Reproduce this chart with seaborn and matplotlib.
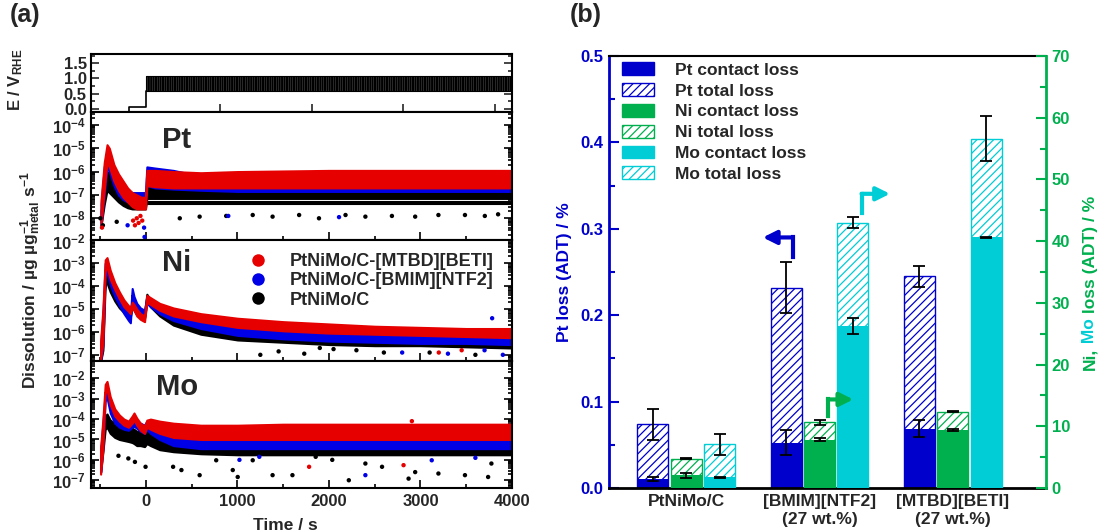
import numpy as np
import pandas as pd
import matplotlib
matplotlib.use('Agg')
import matplotlib.pyplot as plt
import matplotlib.ticker as mticker
from matplotlib.patches import Patch
from matplotlib.lines import Line2D
import seaborn as sns

# ---------------- DATA : panel (a) ----------------
# potential program
e_step_t = [-186, -186, 0, 0]
e_step_v = [-0.1, 0.05, 0.05, 0.6]
e_cycle_t = [0, 3980]
e_cycle_lo = 0.6
e_cycle_hi = 1.08

# Pt dissolution (log10 band limits)
pt_t = [-490, -455, -425, -400, -350, -300, -250, -200, -150, -100, -50, -5,
        10, 100, 300, 600, 1000, 2000, 3000, 3980]
pt_red_hi = [-7.2, -5.6, -4.85, -5.0, -5.7, -6.1, -6.4, -6.7, -6.9, -7.0, -7.1, -7.1,
             -5.95, -5.95, -6.0, -6.05, -6.0, -5.95, -5.95, -5.95]
pt_red_lo = [-8.3, -6.8, -5.6, -5.8, -6.4, -6.8, -7.1, -7.3, -7.5, -7.6, -7.6, -7.6,
             -6.6, -6.65, -6.7, -6.7, -6.7, -6.7, -6.7, -6.7]
pt_blue_hi = [-7.4, -5.8, -5.1, -5.2, -5.9, -6.3, -6.6, -6.8, -6.9, -6.9, -6.9, -6.9,
              -5.8, -5.85, -5.95, -6.2, -6.3, -6.35, -6.35, -6.35]
pt_blue_lo = [-8.3, -7.0, -5.8, -6.0, -6.6, -7.0, -7.2, -7.3, -7.3, -7.3, -7.3, -7.3,
              -6.6, -6.7, -6.75, -6.8, -6.85, -6.85, -6.85, -6.85]
pt_black_hi = [-7.7, -6.6, -6.0, -6.1, -6.5, -6.8, -7.0, -7.2, -7.4, -7.45, -7.45, -7.45,
               -6.5, -6.55, -6.6, -6.6, -6.6, -6.6, -6.6, -6.6]
pt_black_lo = [-8.3, -7.4, -6.8, -6.9, -7.1, -7.3, -7.45, -7.55, -7.6, -7.6, -7.6, -7.6,
               -7.15, -7.15, -7.15, -7.15, -7.15, -7.15, -7.15, -7.15]
pt_black2_t = [20, 3980]
pt_black2_lo = [-7.41, -7.41]
pt_black2_hi = [-7.32, -7.32]
pt_black_pts_t = [-498, -470, -319, 370, 587, 877, 1167, 1384, 1674, 1891, 2181, 2398,
                  2688, 2942, 3196, 3486, 3703, 3848]
pt_black_pts_v = [-8.0, -8.3, -8.15, -8.0, -7.93, -7.9, -7.86, -7.93, -7.86, -8.0, -7.86,
                  -7.93, -7.9, -7.93, -7.86, -7.86, -7.9, -7.83]
pt_red_pts_t = [-140, -120, -100, -80, -60, -40, -480]
pt_red_pts_v = [-8.1, -8.3, -8.0, -8.2, -7.9, -8.1, -8.4]
pt_blue_pts_t = [-200, -20, -15, 2110, 900]
pt_blue_pts_v = [-8.3, -8.4, -8.8, -7.95, -7.9]

# Ni dissolution
ni_t = [-495, -470, -445, -425, -390, -340, -290, -240, -190, -170, -150, -130, -100,
        -60, -15, 10, 50, 150, 300, 600, 1000, 1500, 2000, 2500, 3000, 3500, 3980]
ni_red_hi = [-6.4, -5.0, -2.85, -2.75, -3.3, -3.85, -4.25, -4.6, -4.85, -4.95, -4.7, -4.8, -5.0,
             -5.2, -5.3, -4.4, -4.5, -4.75, -4.95, -5.2, -5.4, -5.55, -5.65, -5.75, -5.8, -5.85, -5.85]
ni_red_lo = [-7.2, -6.5, -3.3, -3.15, -3.7, -4.15, -4.55, -4.9, -5.1, -5.2, -4.95, -5.05, -5.3,
             -5.45, -5.55, -4.7, -4.8, -5.05, -5.3, -5.55, -5.8, -5.95, -6.05, -6.1, -6.15, -6.2, -6.25]
ni_blue_hi = [-6.6, -5.2, -3.0, -2.95, -3.55, -4.1, -4.5, -4.85, -5.15, -5.3, -4.1, -4.45, -4.75,
              -4.95, -5.05, -4.45, -4.55, -4.85, -5.15, -5.45, -5.7, -5.85, -5.95, -6.0, -6.05, -6.1, -6.1]
ni_blue_lo = [-7.3, -6.6, -3.5, -3.4, -3.95, -4.45, -4.85, -5.2, -5.5, -5.6, -4.4, -4.75, -5.05,
              -5.25, -5.35, -4.75, -4.9, -5.2, -5.5, -5.85, -6.15, -6.3, -6.4, -6.45, -6.5, -6.5, -6.55]
ni_black_hi = [-6.8, -5.5, -3.6, -3.55, -4.0, -4.4, -4.7, -4.9, -5.05, -5.1, -4.6, -4.8, -5.0,
               -5.1, -5.15, -4.35, -4.6, -5.0, -5.4, -5.8, -6.0, -6.1, -6.15, -6.2, -6.2, -6.25, -6.25]
ni_black_lo = [-7.3, -6.8, -3.9, -3.85, -4.25, -4.65, -4.95, -5.15, -5.3, -5.35, -4.85, -5.05, -5.25,
               -5.35, -5.4, -4.6, -4.9, -5.3, -5.7, -6.1, -6.35, -6.45, -6.55, -6.6, -6.6, -6.65, -6.7]
ni_black_pts_t = [1250, 1730, 1900, 2300, 2600, 3100, 3600, 1450, 2050]
ni_black_pts_v = [-7.0, -6.95, -6.7, -6.8, -6.9, -6.9, -7.0, -6.85, -6.75]
ni_blue_pts_t = [2800, 3700, 3900, 3783, 3300]
ni_blue_pts_v = [-6.9, -6.8, -7.0, -5.4, -6.95]
ni_red_pts_t = [3200, 3450]
ni_red_pts_v = [-6.9, -6.8]

# Mo dissolution
mo_t = [-495, -470, -445, -425, -390, -340, -290, -240, -190, -150, -130, -100, -60, -15,
        10, 50, 150, 300, 600, 1000, 1500, 2000, 2500, 3000, 3500, 3980]
mo_red_hi = [-5.4, -4.0, -2.3, -2.15, -2.9, -3.5, -3.8, -4.0, -4.1, -3.85, -3.7, -3.95, -4.2, -4.35,
             -4.05, -4.0, -4.1, -4.2, -4.3, -4.3, -4.25, -4.25, -4.25, -4.25, -4.25, -4.25]
mo_red_lo = [-6.7, -5.5, -2.7, -2.55, -3.3, -3.85, -4.1, -4.3, -4.4, -4.2, -4.05, -4.3, -4.55, -4.7,
             -4.4, -4.5, -4.7, -4.9, -5.0, -5.0, -5.0, -5.0, -5.0, -5.0, -5.0, -5.0]
mo_blue_hi = [-5.6, -4.2, -2.7, -2.55, -3.3, -3.85, -4.05, -4.15, -4.2, -4.0, -3.95, -4.1, -4.2, -4.3,
              -4.1, -4.1, -4.2, -4.3, -4.35, -4.35, -4.3, -4.3, -4.3, -4.3, -4.3, -4.3]
mo_blue_lo = [-6.6, -5.4, -3.1, -2.95, -3.7, -4.2, -4.4, -4.5, -4.55, -4.4, -4.35, -4.45, -4.6, -4.7,
              -4.5, -4.7, -5.0, -5.3, -5.45, -5.45, -5.45, -5.45, -5.45, -5.45, -5.45, -5.45]
mo_black_hi = [-5.6, -4.6, -3.85, -3.75, -4.05, -4.2, -4.3, -4.35, -4.4, -4.45, -4.5, -4.6, -4.6, -4.7,
               -4.4, -4.5, -4.7, -4.85, -4.9, -4.9, -4.9, -4.9, -4.9, -4.9, -4.9, -4.9]
mo_black_lo = [-6.6, -5.6, -4.5, -4.4, -4.7, -4.9, -5.0, -5.05, -5.1, -5.15, -5.2, -5.3, -5.3, -5.35,
               -5.2, -5.3, -5.5, -5.6, -5.7, -5.75, -5.75, -5.75, -5.75, -5.75, -5.75, -5.75]
mo_black_pts_t = [-192, -4, 297, 388, 587, 949, 1003, 1384, 1601, 2036, 2217, 2398, 2580,
                  2870, 2942, 3196, 3486, 3739, 3775, 768, 1167, 1855, -300, -120]
mo_black_pts_v = [-5.93, -6.34, -6.34, -6.5, -6.75, -6.5, -6.84, -6.75, -6.75, -6.0, -7.0, -6.18,
                  -6.34, -6.92, -6.6, -6.67, -6.75, -6.84, -6.18, -6.02, -6.02, -5.85, -5.8, -6.1]
mo_blue_pts_t = [1022, 2398, 1239, 3123, 3600]
mo_blue_pts_v = [-6.0, -6.75, -5.85, -6.02, -5.9]
mo_red_pts_t = [2906, 2815, 1783]
mo_red_pts_v = [-4.1, -6.26, -6.34]

legend_a_labels = ['PtNiMo/C-[MTBD][BETI]', 'PtNiMo/C-[BMIM][NTF2]', 'PtNiMo/C']

# ---------------- DATA : panel (b) ----------------
groups = ['PtNiMo/C', '[BMIM][NTF2]\n(27 wt.%)', '[MTBD][BETI]\n(27 wt.%)']
metals = ['Pt', 'Ni', 'Mo']
pt_total = [0.074, 0.232, 0.245]
pt_total_err = [0.018, 0.029, 0.012]
pt_contact = [0.0104, 0.0525, 0.0687]
pt_contact_err = [0.0022, 0.0145, 0.010]
ni_total = [4.75, 10.64, 12.37]
ni_total_err = [0.1, 0.38, 0.1]
ni_contact = [2.05, 7.83, 9.4]
ni_contact_err = [0.45, 0.22, 0.2]
mo_total = [7.07, 42.95, 56.6]
mo_total_err = [1.7, 0.9, 3.6]
mo_contact = [1.72, 26.3, 40.6]
mo_contact_err = [0.05, 1.3, 0.1]
legend_b_labels = ['Pt contact loss', 'Pt total loss', 'Ni contact loss',
                   'Ni total loss', 'Mo contact loss', 'Mo total loss']

# ---------------- STYLE ----------------
sns.set_theme(style='ticks')
plt.rcParams['font.family'] = ['Liberation Sans', 'DejaVu Sans']
plt.rcParams['font.weight'] = 'bold'
plt.rcParams['axes.labelweight'] = 'bold'
plt.rcParams['mathtext.fontset'] = 'custom'
plt.rcParams['mathtext.rm'] = 'Liberation Sans:bold'
plt.rcParams['mathtext.bf'] = 'Liberation Sans:bold'
plt.rcParams['mathtext.it'] = 'Liberation Sans:bold'
plt.rcParams['mathtext.sf'] = 'Liberation Sans:bold'
plt.rcParams['mathtext.default'] = 'bf'

RED = '#E60000'
BLUE_A = '#0000E6'
BLACK = '#000000'
C_PT = '#0000CC'
C_NI = '#00B04F'
C_MO = '#00CDD5'
metal_colors = {'Pt': C_PT, 'Ni': C_NI, 'Mo': C_MO}

W, H = 1099, 532
fig = plt.figure(figsize=(W / 100, H / 100), dpi=100)


def rect(l, t, r, b):
    return [l / W, 1 - b / H, (r - l) / W, (b - t) / H]


ax_e = fig.add_axes(rect(91, 54, 512, 112))
ax_pt = fig.add_axes(rect(91, 112, 512, 240))
ax_ni = fig.add_axes(rect(91, 240, 512, 361))
ax_mo = fig.add_axes(rect(91, 361, 512, 488))
axb = fig.add_axes(rect(609, 56, 1046, 488))

# ---------------- panel (a) ----------------
ax_e.plot(e_step_t, e_step_v, color='black', lw=1.2)
plt.rcParams['hatch.linewidth'] = 1.6
ax_e.fill_between(e_cycle_t, e_cycle_lo, e_cycle_hi, facecolor='white',
                  edgecolor='black', hatch='|||||||', lw=0.8)
ax_e.set_xlim(-600, 4000)
ax_e.set_ylim(-0.1, 1.8)
ax_e.yaxis.set_major_locator(mticker.FixedLocator([0.0, 0.5, 1.0, 1.5]))
ax_e.yaxis.set_major_formatter(mticker.FormatStrFormatter('%.1f'))
ax_e.yaxis.set_minor_locator(mticker.MultipleLocator(0.25))
ax_e.xaxis.set_major_locator(mticker.FixedLocator([810, 1810, 2810, 3810]))
ax_e.tick_params(which='both', direction='in', left=True, right=True, bottom=True,
                 top=False, labelbottom=False, labelsize=12, width=1.2, pad=3)
ax_e.tick_params(which='major', length=6)
ax_e.tick_params(which='minor', length=3)
for s in ax_e.spines.values():
    s.set_linewidth(1.5)
    s.set_color('black')
ax_e.set_ylabel(r'E / V$_{\mathbf{RHE}}$', fontsize=12, labelpad=8)
ax_e.yaxis.set_label_coords(-0.157, 0.55)


def band(ax, t, lo, hi, color):
    ax.fill_between(t, np.power(10.0, lo), np.power(10.0, hi), facecolor=color,
                    edgecolor=color, lw=1.5, zorder=2)


def pts(ax, t, v, color):
    sns.scatterplot(x=t, y=np.power(10.0, v), ax=ax, color=color, s=10,
                    edgecolor='none', zorder=3, legend=False)


def style_log(ax, ylo, yhi, show_x=False):
    ax.set_yscale('log')
    ax.set_ylim(10 ** ylo, 10 ** yhi)
    ax.set_xlim(-600, 4000)
    ax.yaxis.set_major_locator(mticker.LogLocator(base=10, numticks=20))
    ax.yaxis.set_minor_locator(mticker.LogLocator(base=10, subs=np.arange(2, 10), numticks=20))
    ax.yaxis.set_minor_formatter(mticker.NullFormatter())
    ax.xaxis.set_major_locator(mticker.MultipleLocator(1000))
    ax.xaxis.set_minor_locator(mticker.MultipleLocator(500))
    ax.tick_params(which='both', direction='in', left=True, right=True, top=False,
                   bottom=True, width=1.2, color='black', labelsize=12, pad=4)
    ax.tick_params(which='major', length=6)
    ax.tick_params(which='minor', length=3)
    ax.tick_params(axis='x', which='both', labelbottom=show_x)
    for s in ax.spines.values():
        s.set_linewidth(1.5)
        s.set_color('black')
    ax.set_xlabel('')
    ax.set_ylabel('')


# Pt
band(ax_pt, pt_t, pt_black_lo, pt_black_hi, BLACK)
band(ax_pt, pt_black2_t, pt_black2_lo, pt_black2_hi, BLACK)
pts(ax_pt, pt_black_pts_t, pt_black_pts_v, BLACK)
band(ax_pt, pt_t, pt_blue_lo, pt_blue_hi, BLUE_A)
pts(ax_pt, pt_blue_pts_t, pt_blue_pts_v, BLUE_A)
band(ax_pt, pt_t, pt_red_lo, pt_red_hi, RED)
pts(ax_pt, pt_red_pts_t, pt_red_pts_v, RED)
style_log(ax_pt, -8.93, -3.45)
ax_pt.text(0.204, 0.78, 'Pt', transform=ax_pt.transAxes, fontsize=21,
           fontweight='bold', ha='center', va='center')

# Ni
band(ax_ni, ni_t, ni_black_lo, ni_black_hi, BLACK)
pts(ax_ni, ni_black_pts_t, ni_black_pts_v, BLACK)
band(ax_ni, ni_t, ni_blue_lo, ni_blue_hi, BLUE_A)
pts(ax_ni, ni_blue_pts_t, ni_blue_pts_v, BLUE_A)
band(ax_ni, ni_t, ni_red_lo, ni_red_hi, RED)
pts(ax_ni, ni_red_pts_t, ni_red_pts_v, RED)
style_log(ax_ni, -7.27, -1.98)
ax_ni.text(0.204, 0.81, 'Ni', transform=ax_ni.transAxes, fontsize=21,
           fontweight='bold', ha='center', va='center')
leg_handles = [Line2D([], [], ls='', marker='o', markersize=9, color=c, markeredgewidth=0)
               for c in (RED, BLUE_A, BLACK)]
ax_ni.legend(leg_handles, legend_a_labels, loc='upper left', bbox_to_anchor=(0.376, 0.89),
             frameon=False, fontsize=13, handlelength=0.95, handletextpad=1.3,
             labelspacing=0.12, borderpad=0, borderaxespad=0)

# Mo
band(ax_mo, mo_t, mo_black_lo, mo_black_hi, BLACK)
pts(ax_mo, mo_black_pts_t, mo_black_pts_v, BLACK)
band(ax_mo, mo_t, mo_blue_lo, mo_blue_hi, BLUE_A)
pts(ax_mo, mo_blue_pts_t, mo_blue_pts_v, BLUE_A)
band(ax_mo, mo_t, mo_red_lo, mo_red_hi, RED)
pts(ax_mo, mo_red_pts_t, mo_red_pts_v, RED)
style_log(ax_mo, -7.38, -1.15, show_x=True)
ax_mo.text(0.204, 0.795, 'Mo', transform=ax_mo.transAxes, fontsize=21,
           fontweight='bold', ha='center', va='center')

fig.text(31 / W, 1 - 280 / H, r'Dissolution / µg µg$_{\mathbf{metal}}^{\mathbf{-1}}$ s$^{\mathbf{-1}}$',
         rotation=90, ha='center', va='center', fontsize=12.5, fontweight='bold')
fig.text(285 / W, 1 - 525 / H, 'Time / s', ha='center', va='center', fontsize=12.5,
         fontweight='bold')
fig.text(10 / W, 1 - 15 / H, '(a)', ha='left', va='center', fontsize=18, fontweight='bold')
fig.text(570 / W, 1 - 15 / H, '(b)', ha='left', va='center', fontsize=18, fontweight='bold')

# ---------------- panel (b) ----------------
ax2 = axb.twinx()
plt.rcParams['hatch.linewidth'] = 0.9
HATCH = '////'


def long_df(vals_by_metal):
    rows = []
    for m, vals in vals_by_metal.items():
        for g, v in zip(groups, vals):
            rows.append({'group': g, 'metal': m, 'value': v})
    return pd.DataFrame(rows)


df_pt_tot = long_df({'Pt': pt_total})
df_pt_con = long_df({'Pt': pt_contact})
df_nm_tot = long_df({'Ni': ni_total, 'Mo': mo_total})
df_nm_con = long_df({'Ni': ni_contact, 'Mo': mo_contact})

common = dict(x='group', y='value', hue='metal', hue_order=metals, order=groups,
              palette=metal_colors, width=0.75, gap=0.07, errorbar=None, dodge=True,
              legend=False, saturation=1)


def hatched_bars(ax, df):
    n0 = len(ax.patches)
    sns.barplot(data=df, ax=ax, **common)
    for p in ax.patches[n0:]:
        c = p.get_facecolor()
        p.set_facecolor('white')
        p.set_edgecolor(c)
        p.set_hatch(HATCH)
        p.set_linewidth(1.0)


hatched_bars(axb, df_pt_tot)
sns.barplot(data=df_pt_con, ax=axb, linewidth=0, **common)
hatched_bars(ax2, df_nm_tot)
sns.barplot(data=df_nm_con, ax=ax2, linewidth=0, **common)

slot = 0.25
pos = {m: np.arange(len(groups)) + (i - 1) * slot for i, m in enumerate(metals)}
eb = dict(fmt='none', ecolor='black', elinewidth=1.3, capsize=4.5, capthick=1.3, zorder=5)
axb.errorbar(pos['Pt'], pt_total, yerr=pt_total_err, **eb)
axb.errorbar(pos['Pt'], pt_contact, yerr=pt_contact_err, **eb)
ax2.errorbar(pos['Ni'], ni_total, yerr=ni_total_err, **eb)
ax2.errorbar(pos['Ni'], ni_contact, yerr=ni_contact_err, **eb)
ax2.errorbar(pos['Mo'], mo_total, yerr=mo_total_err, **eb)
ax2.errorbar(pos['Mo'], mo_contact, yerr=mo_contact_err, **eb)

axb.set_xlim(-0.58, 2.70)
axb.set_ylim(0, 0.5)
ax2.set_ylim(0, 70)
axb.yaxis.set_major_locator(mticker.MultipleLocator(0.1))
axb.yaxis.set_minor_locator(mticker.MultipleLocator(0.05))
axb.yaxis.set_major_formatter(mticker.FormatStrFormatter('%.1f'))
ax2.yaxis.set_major_locator(mticker.MultipleLocator(10))
ax2.yaxis.set_minor_locator(mticker.MultipleLocator(5))
axb.tick_params(axis='y', which='both', direction='in', color=C_PT, labelcolor=C_PT,
                labelsize=12, width=1.5, pad=4, right=False)
axb.tick_params(axis='y', which='major', length=7)
axb.tick_params(axis='y', which='minor', length=4)
ax2.tick_params(axis='y', which='both', direction='in', color=C_NI, labelcolor=C_NI,
                labelsize=12, width=1.5, pad=4, left=False)
ax2.tick_params(axis='y', which='major', length=7)
ax2.tick_params(axis='y', which='minor', length=4)
axb.tick_params(axis='x', length=0, labelsize=12.5, pad=4)
for lab in axb.get_xticklabels():
    lab.set_fontweight('bold')
    lab.set_linespacing(1.25)
axb.set_xlabel('')
ax2.set_xlabel('')
axb.set_ylabel('Pt loss (ADT) / %', color=C_PT, fontsize=12.5, fontweight='bold', labelpad=6)
ax2.set_ylabel('')

axb.spines['left'].set_color(C_PT)
axb.spines['left'].set_linewidth(2)
axb.spines['bottom'].set_color('black')
axb.spines['bottom'].set_linewidth(2)
axb.spines['top'].set_color('black')
axb.spines['top'].set_linewidth(1.5)
axb.spines['right'].set_visible(False)
for k in ('left', 'top', 'bottom'):
    ax2.spines[k].set_visible(False)
ax2.spines['right'].set_color(C_NI)
ax2.spines['right'].set_linewidth(2)

leg_b = [Patch(facecolor=C_PT, edgecolor=C_PT, lw=1),
         Patch(facecolor='white', edgecolor=C_PT, hatch=HATCH, lw=1),
         Patch(facecolor=C_NI, edgecolor=C_NI, lw=1),
         Patch(facecolor='white', edgecolor=C_NI, hatch=HATCH, lw=1),
         Patch(facecolor=C_MO, edgecolor=C_MO, lw=1),
         Patch(facecolor='white', edgecolor=C_MO, hatch=HATCH, lw=1)]
ax2.legend(leg_b, legend_b_labels, loc='upper left', bbox_to_anchor=(0.029, 0.985),
           frameon=False, fontsize=12.5, handlelength=1.85, handleheight=0.75,
           handletextpad=1.2, labelspacing=0.31, borderpad=0, borderaxespad=0)

# bent arrows (axes-fraction coordinates)
arrows = [(C_PT, 0.421, 0.535, 0.580, 0.352),
          (C_MO, 0.578, 0.636, 0.681, 0.643),
          (C_NI, 0.501, 0.167, 0.205, 0.559)]
for col, xv, y0, y1, xt in arrows:
    ax2.plot([xv, xv], [y0, y1], transform=ax2.transAxes, color=col, lw=3.0,
             solid_capstyle='projecting', zorder=6)
    ax2.annotate('', xy=(xt, y1), xytext=(xv, y1), xycoords='axes fraction',
                 textcoords='axes fraction',
                 arrowprops=dict(arrowstyle='-|>,head_length=0.8,head_width=0.4',
                                 color=col, lw=3.0, shrinkA=0, shrinkB=0,
                                 mutation_scale=10), zorder=6)

# multi-coloured right axis label
renderer = fig.canvas.get_renderer()
y_cur = 1 - 370 / H
x_lab = 1090 / W
for txt, col in (('Ni,', C_NI), (' Mo', C_MO), (' loss (ADT) / %', C_NI)):
    t = fig.text(x_lab, y_cur, txt, rotation=90, ha='center', va='bottom',
                 fontsize=12.5, fontweight='bold', color=col)
    bb = t.get_window_extent(renderer=renderer)
    y_cur += bb.height / H

fig.savefig('out.png', dpi=100)
